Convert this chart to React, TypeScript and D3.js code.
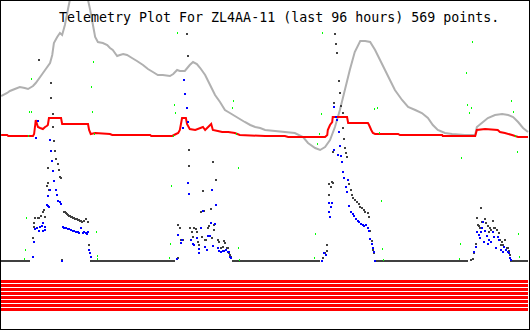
import React from "react";
import * as d3 from "d3";

// time in hours (0..96), value in raw plot units
const grayTimes = [0.2,1.3,1.8,2.7,3.6,4.5,5.1,6.0,6.5,7.3,8.2,9.1,9.5,9.8,10.4,10.9,11.3,11.8,12.4,12.7,13.1,13.6,14.5,15.5,16.0,16.4,16.9,17.3,17.8,18.7,19.5,20.0,20.5,21.3,21.8,22.4,23.1,24.0,24.9,26.0,26.9,27.8,28.7,29.6,30.9,31.5,32.2,32.7,33.6,34.5,35.1,35.8,36.4,37.3,38.2,39.1,40.0,40.9,41.8,42.7,43.6,44.5,45.5,46.4,47.3,48.2,50.0,53.6,55.1,56.0,57.3,58.2,59.1,60.0,60.9,61.8,62.7,63.6,64.5,65.5,66.4,67.3,68.2,69.1,70.0,70.9,71.8,73.1,74.2,75.5,76.7,77.8,78.7,79.6,80.9,82.2,84.5,86.4,86.7,87.6,88.7,90.0,91.3,92.4,93.3,94.2,95.1,96.0];
const grayValues = [165,168,170,172,174,173,172,175,178,184,191,198,206,218,224,228,226,236,253,261,269,275,285,275,261,251,236,224,219,218,216,213,211,205,206,207,206,203,200,196,192,189,186,186,185,187,191,190,190,196,199,197,193,186,176,166,159,151,148,145,142,139,136,134,133,131,130,128,124,118,113,111,114,121,134,151,171,191,209,220,220,219,211,201,191,181,171,161,154,151,148,143,136,131,128,127,126,126,134,138,143,146,147,146,144,139,133,129];

const redTimes = [0.2,1.3,1.5,6.0,6.2,6.4,6.5,6.9,7.3,7.8,8.2,8.5,8.7,8.9,11.1,11.3,16.0,16.2,16.5,17.3,20.0,20.4,27.3,27.5,31.3,32.0,32.4,32.7,33.1,33.8,34.0,34.5,35.5,36.9,37.3,38.4,38.7,39.6,40.4,41.5,42.7,43.6,48.2,51.8,52.4,59.1,59.5,59.6,60.0,60.4,60.5,63.1,63.3,66.9,67.1,67.5,67.8,68.2,72.4,72.7,80.4,80.5,86.4,86.7,88.2,90.5,90.9,91.8,93.1,94.2,96.0];
const redValues = [126,126,125,125,127,136,141,134,133,132,134,135,136,143,143,137,137,131,127,128,127,126,126,125,125,127,128,131,143,143,137,132,131,134,131,137,131,130,129,129,128,126,125,125,124,124,126,131,136,139,144,144,138,138,136,131,128,127,127,126,126,125,125,131,132,131,129,128,126,124,124];

// dark channel: runs where it reads zero (night), then daytime samples
const darkZeroRuns = [[0.2,5.5],[16.4,31.8],[42.2,58.2],[68.2,85.1],[92.7,96.0]];
const darkTimes = [5.8,6.0,6.0,6.2,6.7,6.9,7.3,7.6,7.8,8.0,8.4,8.5,8.7,8.5,6.9,9.1,9.1,9.5,9.5,9.6,9.8,10.0,10.4,10.5,10.7,10.9,11.1,11.5,11.6,11.8,12.0,12.2,12.4,12.5,12.7,12.9,13.1,13.3,13.5,13.6,13.8,14.0,14.2,14.4,14.5,14.7,15.1,15.5,15.8,16.0,16.2,
  32.2,32.2,32.5,32.7,33.1,33.8,34.0,34.2,34.2,34.4,34.7,34.9,35.1,35.5,35.6,35.8,36.0,36.4,36.5,36.7,36.9,37.1,37.3,37.6,37.8,38.2,38.4,38.5,38.7,38.7,39.1,39.1,39.5,39.6,40.0,40.4,40.5,40.7,41.1,41.3,41.5,41.6,41.8,
  58.5,58.9,59.3,59.3,59.6,59.6,60.0,60.2,60.4,60.4,60.7,60.9,61.1,61.5,61.6,60.5,61.8,62.2,62.2,62.4,62.5,62.7,62.9,63.3,63.6,63.8,64.0,64.4,64.7,65.1,65.3,65.6,66.0,66.2,66.7,66.9,67.1,67.5,67.6,67.8,
  85.5,85.8,86.0,86.4,86.5,86.7,86.9,87.1,87.3,87.5,87.6,88.0,88.2,88.5,88.7,88.9,89.1,89.5,89.6,89.8,90.2,90.5,90.7,90.9,91.1,91.3,91.6,92.0,92.2,92.4,92.5];
const darkValues = [23,34,38,43,43,43,45,49,51,44,75,78,71,93,201,178,163,147,134,120,110,102,97,91,84,83,1,49,49,48,47,46,45,45,44,44,43,43,42,42,42,41,41,40,40,39,40,42,39,16,8,
  3,36,33,21,21,227,205,111,95,33,29,24,33,32,29,19,16,49,24,70,50,21,21,33,35,52,23,99,36,31,81,56,21,19,13,14,20,18,13,13,8,6,4,
  3,8,10,16,77,66,74,79,78,109,227,217,208,180,168,158,155,148,133,122,113,108,104,77,71,66,63,61,59,57,54,53,51,49,48,44,30,20,11,8,
  1,2,8,17,43,36,35,33,53,39,39,42,38,35,29,33,31,40,33,33,31,28,21,16,19,16,21,13,13,10,6];

const blueTimes = [5.8,6.0,6.2,6.5,6.9,7.1,7.5,7.6,7.6,8.0,8.0,8.4,8.5,8.7,8.5,8.9,9.5,9.6,10.0,10.2,10.4,10.7,10.9,6.7,6.4,8.9,9.1,9.3,11.1,11.3,11.5,11.8,12.2,12.4,12.7,13.1,13.3,13.6,14.0,14.2,14.5,14.9,15.1,15.5,15.6,15.8,16.0,16.2,16.4,
  32.0,32.2,32.7,32.9,33.1,33.3,33.5,33.8,34.0,34.0,34.2,34.5,34.9,35.1,35.6,36.0,36.0,36.4,36.7,37.1,37.5,37.6,38.0,38.2,38.4,38.5,38.9,39.1,39.5,39.6,40.0,40.4,40.5,40.9,41.3,41.5,41.6,41.8,
  58.4,58.7,59.1,59.6,59.6,59.8,60.0,60.2,60.5,60.9,61.1,61.5,61.6,61.3,61.8,62.0,60.5,62.2,62.4,62.7,62.9,63.1,63.3,63.6,64.0,64.2,64.5,64.9,65.1,65.5,65.8,66.0,66.4,66.7,66.9,67.1,67.5,67.6,67.8,68.0,
  86.0,86.4,86.5,86.9,87.1,87.3,87.5,87.6,87.8,88.0,88.4,88.5,88.7,89.1,89.5,89.6,90.0,90.4,90.5,90.9,91.3,91.5,91.8,92.2,92.4,92.5,92.7];
const blueValues = [4,19,32,33,30,34,35,30,38,34,31,56,55,54,65,71,90,80,71,66,60,59,57,140,123,121,110,100,0,34,33,33,32,32,31,30,30,29,29,28,33,28,29,28,27,29,11,8,4,
  2,26,18,21,133,181,167,153,139,78,67,21,17,16,23,12,8,33,50,14,11,25,25,38,71,15,37,56,13,10,9,10,10,11,9,9,4,3,
  0,8,6,58,49,44,54,58,154,144,141,129,115,106,105,99,111,89,83,74,69,81,55,49,47,45,42,40,39,37,36,35,36,33,30,22,17,13,9,0,
  9,14,29,26,23,29,33,39,19,30,25,17,21,19,29,24,13,24,21,11,9,14,11,9,8,3,1];

const greenTimes = [32.2,16.9,5.6,16.5,5.3,5.6,16.7,31.6,31.8,42.4,42.2,42.9,5.1,17.1,31.5,58.5,85.8,84.7,84.9,85.6,85.3,92.9,93.3,68.0,68.5,58.4,57.6,58.0,68.9,83.8,94.0,93.6,4.7,4.5,4.4,17.5,17.6,17.6,31.1,30.9,30.7,43.3,43.3,43.5,57.3,57.1,69.3,69.5,69.6,83.6,83.5,94.2,94.4];
const greenValues = [228,199,182,174,149,149,149,156,148,160,153,127,125,127,125,228,219,188,156,153,148,160,149,152,153,147,117,127,128,103,109,125,43,11,2,29,5,2,75,17,3,93,13,1,27,3,60,12,1,17,2,27,4];

const bitChannels = [1, 1, 1, 1, 1, 1, 1, 1];
const titleText = "Telemetry Plot For ZL4AA-11 (last 96 hours) 569 points.";

const W = 530, H = 330;

export default function App() {
  const x = d3.scaleLinear().domain([0, 96]).range([0, 528]);
  const y = d3.scaleLinear().domain([0, 261]).range([261, 0]);
  const bitY = d3.scaleLinear().domain([0, 8]).range([280, 312]);

  const line = d3.line<[number, number]>().x(d => x(d[0])).y(d => y(d[1]));
  const gray = grayTimes.map((t, i) => [t, grayValues[i]] as [number, number]);
  const red = redTimes.map((t, i) => [t, redValues[i]] as [number, number]);

  const dots = (times: number[], vals: number[], color: string, key: string, w: number) =>
    times.map((t, i) => (
      <rect key={key + i} x={Math.round(x(t))} y={Math.round(y(vals[i])) - 1} width={w} height={2} fill={color} />
    ));

  return (
    <div style={{ position: "absolute", left: 0, top: 0 }}>
      <svg width={W} height={H} style={{ display: "block", background: "#fff" }}>
        <defs>
          <clipPath id="plot">
            <rect x={1} y={1} width={528} height={328} />
          </clipPath>
        </defs>
        <rect x={0} y={0} width={W} height={H} fill="#fff" />
        <g clipPath="url(#plot)">
          <path d={line(gray) || ""} fill="none" stroke="#b0b0b0" strokeWidth={2} />
          <path d={line(red) || ""} fill="none" stroke="#ff0000" strokeWidth={2} />
          {darkZeroRuns.map((r, i) => (
            <rect key={"z" + i} x={Math.round(x(r[0]))} y={Math.round(y(0)) - 1} width={Math.round(x(r[1]) - x(r[0]))} height={2} fill="#404040" shapeRendering="crispEdges" />
          ))}
          <g shapeRendering="crispEdges">
            {dots(darkTimes, darkValues, "#404040", "k", 2)}
            {dots(blueTimes, blueValues, "#0000ff", "b", 2)}
            {dots(greenTimes, greenValues, "#00ff00", "g", 1)}
          </g>
          <g shapeRendering="crispEdges">
            {bitChannels.map((b, i) => (
              <rect key={"bit" + i} x={x(0.2)} y={bitY(i)} width={x(96) - x(0.2)} height={3} fill={b ? "#ff0000" : "#ffffff"} />
            ))}
          </g>
        </g>
        <text x={59} y={22} fontFamily="'DejaVu Sans Mono', monospace" fontSize={13.3} fill="#000">{titleText}</text>
        <rect x={0.5} y={0.5} width={529} height={329} fill="none" stroke="#000" strokeWidth={1} shapeRendering="crispEdges" />
      </svg>
    </div>
  );
}
